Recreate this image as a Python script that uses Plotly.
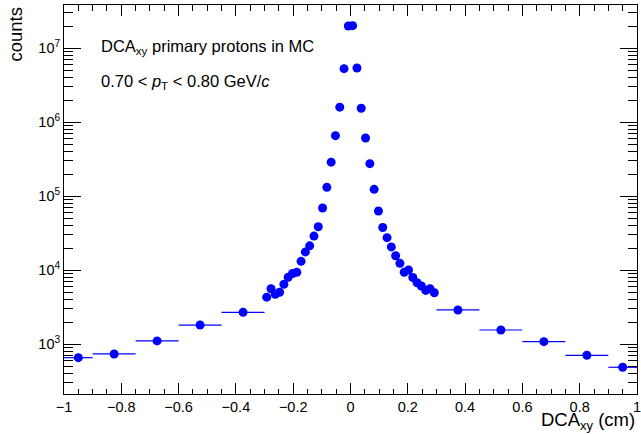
import plotly.graph_objects as go

# Bin edges (cm) of the DCAxy histogram
bin_edges = [-1.0, -0.9, -0.75, -0.6, -0.45, -0.3,
             -0.285, -0.27, -0.255, -0.24, -0.225, -0.21, -0.195, -0.18, -0.165, -0.15,
             -0.135, -0.12, -0.105, -0.09, -0.075, -0.06, -0.045, -0.03, -0.015, 0.0,
             0.015, 0.03, 0.045, 0.06, 0.075, 0.09, 0.105, 0.12, 0.135, 0.15,
             0.165, 0.18, 0.195, 0.21, 0.225, 0.24, 0.255, 0.27, 0.285, 0.3,
             0.45, 0.6, 0.75, 0.9, 1.0]

# Counts per bin
counts = [659, 740, 1110, 1820, 2700,
          4330, 5620, 4740, 5040, 6470, 8040, 9060, 9400, 13200, 17700,
          21400, 29000, 38700, 69500, 132000, 289000, 659000, 1600000, 5300000, 20000000,
          20200000, 5420000, 1550000, 614000, 276000, 124000, 63200, 37900, 27600, 20700,
          15700, 12400, 9400, 10100, 8000, 6780, 6140, 5340, 5620, 4970,
          2910, 1560, 1085, 710, 489]

# Tick labels
x_tick_vals = [-1, -0.8, -0.6, -0.4, -0.2, 0, 0.2, 0.4, 0.6, 0.8, 1]
x_tick_text = ["\u22121", "\u22120.8", "\u22120.6", "\u22120.4", "\u22120.2", "0",
               "0.2", "0.4", "0.6", "0.8", "1"]
y_tick_vals = [1e3, 1e4, 1e5, 1e6, 1e7]
y_tick_text = ["10<sup>3</sup>", "10<sup>4</sup>", "10<sup>5</sup>", "10<sup>6</sup>", "10<sup>7</sup>"]
y_minor_vals = [m * 10 ** e for e in range(2, 8) for m in range(2, 10)]

centers = [(a + b) / 2 for a, b in zip(bin_edges[:-1], bin_edges[1:])]
halfw = [(b - a) / 2 for a, b in zip(bin_edges[:-1], bin_edges[1:])]

FONT = "Liberation Sans, Arial, Helvetica, sans-serif"
BLUE = "#0000ff"

fig = go.Figure()
fig.add_trace(go.Scatter(
    x=centers, y=counts, mode="markers",
    marker=dict(symbol="circle", size=9, color=BLUE),
    error_x=dict(type="data", array=halfw, visible=True, width=0, thickness=1.2, color=BLUE),
    showlegend=False, cliponaxis=True,
))

fig.update_layout(
    width=641, height=434,
    margin=dict(l=64, r=4, t=5, b=40),
    paper_bgcolor="white", plot_bgcolor="white",
    font=dict(family=FONT, size=15, color="black"),
    xaxis=dict(
        range=[-1, 1], showgrid=False, zeroline=False, automargin=False,
        showline=True, linecolor="black", linewidth=1, mirror="allticks",
        ticks="inside", ticklen=11, tickwidth=1, tickcolor="black",
        tickmode="array", tickvals=x_tick_vals, ticktext=x_tick_text,
        ticklabeloverflow="allow",
        minor=dict(ticks="inside", ticklen=5.5, tickwidth=1, tickcolor="black",
                   tickmode="linear", tick0=-1, dtick=0.05),
        tickfont=dict(family=FONT, size=14.5, color="black"),
    ),
    yaxis=dict(
        type="log", range=[2.328, 7.585], showgrid=False, zeroline=False, automargin=False,
        showline=True, linecolor="black", linewidth=1, mirror="allticks",
        ticks="inside", ticklen=17, tickwidth=1, tickcolor="black",
        tickmode="array", tickvals=y_tick_vals, ticktext=y_tick_text,
        ticklabeloverflow="allow",
        minor=dict(ticks="inside", ticklen=9, tickwidth=1, tickcolor="black",
                   tickmode="array", tickvals=y_minor_vals),
        tickfont=dict(family=FONT, size=14.5, color="black"),
    ),
    annotations=[
        dict(text="DCA<sub>xy</sub> primary protons in MC", xref="paper", yref="paper",
             x=0.061, y=0.892, xanchor="left", yanchor="middle", showarrow=False,
             font=dict(family=FONT, size=16.5, color="black")),
        dict(text="0.70 &lt; <i>p</i><sub>T</sub> &lt; 0.80 GeV/<i>c</i>", xref="paper", yref="paper",
             x=0.061, y=0.802, xanchor="left", yanchor="middle", showarrow=False,
             font=dict(family=FONT, size=16.5, color="black")),
        dict(text="DCA<sub>xy</sub> (cm)", xref="paper", yref="paper",
             x=1.0, y=-0.07, xanchor="right", yanchor="middle", showarrow=False,
             font=dict(family=FONT, size=18.5, color="black")),
        dict(text="counts", xref="paper", yref="paper", textangle=-90,
             x=-0.0855, y=1.0, xanchor="center", yanchor="top", showarrow=False,
             font=dict(family=FONT, size=18.5, color="black")),
    ],
)

fig.write_html("out.html")
